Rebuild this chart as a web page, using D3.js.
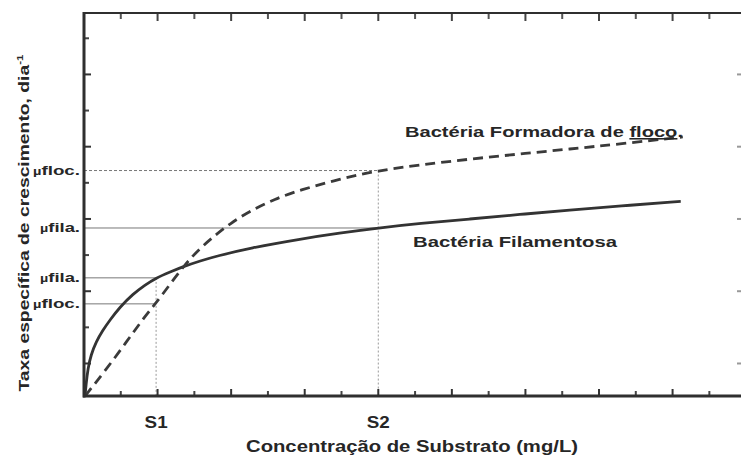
<!DOCTYPE html>
<html>
<head>
<meta charset="utf-8">
<script src="https://cdn.jsdelivr.net/npm/d3@7/dist/d3.min.js"></script>
<style>
  html, body { margin: 0; padding: 0; background: #fff; }
  svg { display: block; }
  text { font-family: "Liberation Sans", Arial, sans-serif; font-weight: bold; fill: #262626; }
</style>
</head>
<body>
<div id="chart"></div>
<script>
// values (arbitrary units, no numeric labels on the axes)
const sMarks = [{ label: "S1", s: 0.98 }, { label: "S2", s: 4.0 }];

const xMajorTicks = [1, 2, 3, 4, 5, 6, 7, 8];
const xMinorTicks = [0.5, 1.5, 2.5, 3.5, 4.5, 5.5, 6.5, 7.5, 8.5];
const yMajorTicks = [0.9, 2.9, 4.9, 6.9, 8.9];
const yMinorTicks = [1.9, 3.9, 5.9, 7.9, 9.9];

// Bactéria Filamentosa (solid)
const filaSubstrate = [0.014, 0.027, 0.054, 0.095, 0.163, 0.258, 0.353, 0.489, 0.666, 0.829, 0.978, 1.168, 1.372, 1.576, 1.807, 2.255, 2.935, 3.478, 3.995, 4.565, 5.245, 5.924, 6.603, 7.283, 8.111];
const filaRate      = [0,     0.304, 0.775, 1.135, 1.495, 1.827, 2.103, 2.463, 2.823, 3.072, 3.266, 3.432, 3.598, 3.737, 3.875, 4.096, 4.345, 4.511, 4.650, 4.775, 4.899, 5.024, 5.148, 5.259, 5.384];

// Bactéria Formadora de floco (dashed)
const flocSubstrate = [0.014, 0.285, 0.557, 0.829, 0.978, 1.168, 1.372, 1.576, 1.780, 1.984, 2.255, 2.595, 2.935, 3.478, 3.995, 4.565, 5.245, 5.924, 6.603, 7.283, 8.139];
const flocRate      = [0,     0.690, 1.440, 2.210, 2.570, 3.090, 3.640, 4.090, 4.440, 4.770, 5.120, 5.452, 5.701, 6.006, 6.240, 6.393, 6.559, 6.698, 6.836, 6.975, 7.169];

// µ read at S1 / S2
const muLevels = [
  { name: "floc.", rate: 6.24, at: "S2", dash: "3,2" },
  { name: "fila.", rate: 4.65, at: "S2", dash: null },
  { name: "fila.", rate: 3.27, at: "S1", dash: null },
  { name: "floc.", rate: 2.55, at: "S1", dash: null }
];

class GrowthChart {
  constructor(selector) {
    this.width = 741;
    this.height = 458;
    this.dom = document.querySelector(selector) || document.body;
    this.svg = d3.select(this.dom).append("svg")
      .attr("width", this.width)
      .attr("height", this.height);

    this.x = d3.scaleLinear().domain([0, 8.93]).range([84, 741]);
    this.y = d3.scaleLinear().domain([0, 10.6]).range([396, 13]);
  }

  draw() {
    this._drawGuides();
    this._drawCurves();
    this._drawAxes();
    this._drawLabels();
  }

  /**
   * inward tick marks along one side of the frame
   * @param vertical true for ticks on a y side
   * @param at position of the side (px)
   * @param len signed length into the plot
   */
  _ticks(values, vertical, at, len, color) {
    const s = vertical ? this.y : this.x;
    this.svg.append("g")
      .attr("stroke", color)
      .attr("stroke-width", 2)
      .selectAll("line")
      .data(values)
      .join("line")
      .attr(vertical ? "y1" : "x1", d => s(d))
      .attr(vertical ? "y2" : "x2", d => s(d))
      .attr(vertical ? "x1" : "y1", at)
      .attr(vertical ? "x2" : "y2", at + len);
  }

  _drawAxes() {
    const x = this.x, y = this.y;
    const x0 = x(0), yb = y(0), yt = y(10.6);

    this._ticks(xMajorTicks, false, yb, -7, "#333");
    this._ticks(xMinorTicks, false, yb, -5, "#444");
    this._ticks(xMajorTicks, false, yt, 8, "#444");
    this._ticks(xMinorTicks, false, yt, 6, "#555");
    this._ticks(yMajorTicks, true, x0, 7, "#333");
    this._ticks(yMinorTicks, true, x0, 5, "#444");
    // right side of the frame is cut off in the scan, only faint ticks remain
    this._ticks(yMajorTicks, true, 741, -4, "#999");

    const frame = this.svg.append("g").attr("stroke", "#2f2f2f").attr("fill", "none");
    frame.append("line").attr("x1", x0 - 1).attr("x2", 741).attr("y1", yt).attr("y2", yt).attr("stroke-width", 2.2);
    frame.append("line").attr("x1", x0 - 1).attr("x2", 741).attr("y1", yb).attr("y2", yb).attr("stroke-width", 3);
    frame.append("line").attr("x1", x0).attr("x2", x0).attr("y1", yt - 1).attr("y2", yb + 1.5).attr("stroke-width", 3);
  }

  _drawGuides() {
    const x = this.x, y = this.y;
    const sAt = {};
    sMarks.forEach(d => { sAt[d.label] = d.s; });

    const g = this.svg.append("g").attr("fill", "none");

    g.selectAll("line.mu")
      .data(muLevels)
      .join("line")
      .attr("class", "mu")
      .attr("x1", x(0))
      .attr("x2", d => x(sAt[d.at]))
      .attr("y1", d => y(d.rate))
      .attr("y2", d => y(d.rate))
      .attr("stroke", "#777")
      .attr("stroke-width", 1)
      .attr("stroke-dasharray", d => d.dash);

    // vertical drop from the highest µ at each S
    g.selectAll("line.s")
      .data(sMarks)
      .join("line")
      .attr("class", "s")
      .attr("x1", d => x(d.s))
      .attr("x2", d => x(d.s))
      .attr("y1", d => y(d3.max(muLevels.filter(m => m.at === d.label), m => m.rate)))
      .attr("y2", y(0))
      .attr("stroke", "#999")
      .attr("stroke-width", 1)
      .attr("stroke-dasharray", "2,2");
  }

  _drawCurves() {
    const line = d3.line()
      .x(d => this.x(d[0]))
      .y(d => this.y(d[1]))
      .curve(d3.curveBasis);

    this.svg.append("path")
      .datum(d3.zip(filaSubstrate, filaRate))
      .attr("d", line)
      .attr("fill", "none")
      .attr("stroke", "#333")
      .attr("stroke-width", 2.8);

    this.svg.append("path")
      .datum(d3.zip(flocSubstrate, flocRate))
      .attr("d", line)
      .attr("fill", "none")
      .attr("stroke", "#3a3a3a")
      .attr("stroke-width", 2.8)
      .attr("stroke-dasharray", "10,6");
  }

  _drawLabels() {
    const x = this.x, y = this.y;

    const mu = this.svg.selectAll("text.mu")
      .data(muLevels)
      .join("text")
      .attr("class", "mu")
      .attr("x", x(0) - 4)
      .attr("y", d => y(d.rate) + 4.5)
      .attr("text-anchor", "end")
      .attr("textLength", d => d.name === "floc." ? 47 : 40)
      .attr("lengthAdjust", "spacingAndGlyphs")
      .style("font-size", "13.5px");
    mu.append("tspan").style("font-size", "10.5px").text("\u00b5");
    mu.append("tspan").text(d => d.name);

    this.svg.selectAll("text.s")
      .data(sMarks)
      .join("text")
      .attr("class", "s")
      .attr("x", d => x(d.s))
      .attr("y", 428)
      .attr("text-anchor", "middle")
      .attr("textLength", 23)
      .attr("lengthAdjust", "spacingAndGlyphs")
      .style("font-size", "16px")
      .text(d => d.label);

    this.svg.append("text")
      .attr("x", 412)
      .attr("y", 452)
      .attr("text-anchor", "middle")
      .attr("textLength", 332)
      .attr("lengthAdjust", "spacingAndGlyphs")
      .style("font-size", "16px")
      .text("Concentração de Substrato (mg/L)");

    const yt = this.svg.append("text")
      .attr("transform", "translate(29,223) rotate(-90)")
      .attr("text-anchor", "middle")
      .attr("textLength", 337)
      .attr("lengthAdjust", "spacingAndGlyphs")
      .style("font-size", "15px");
    yt.append("tspan").text("Taxa específica de crescimento, dia");
    yt.append("tspan").attr("dy", -6).style("font-size", "9px").text("-1");

    const floc = this.svg.append("text")
      .attr("x", 405)
      .attr("y", 137)
      .attr("textLength", 278)
      .attr("lengthAdjust", "spacingAndGlyphs")
      .style("font-size", "15.5px");
    floc.append("tspan").text("Bactéria Formadora de ");
    floc.append("tspan").style("text-decoration", "underline").text("floco");
    floc.append("tspan").text(".");

    this.svg.append("text")
      .attr("x", 413)
      .attr("y", 247)
      .attr("textLength", 204)
      .attr("lengthAdjust", "spacingAndGlyphs")
      .style("font-size", "15.5px")
      .text("Bactéria Filamentosa");
  }
}

const chart = new GrowthChart("#chart");
chart.draw();
</script>
</body>
</html>
